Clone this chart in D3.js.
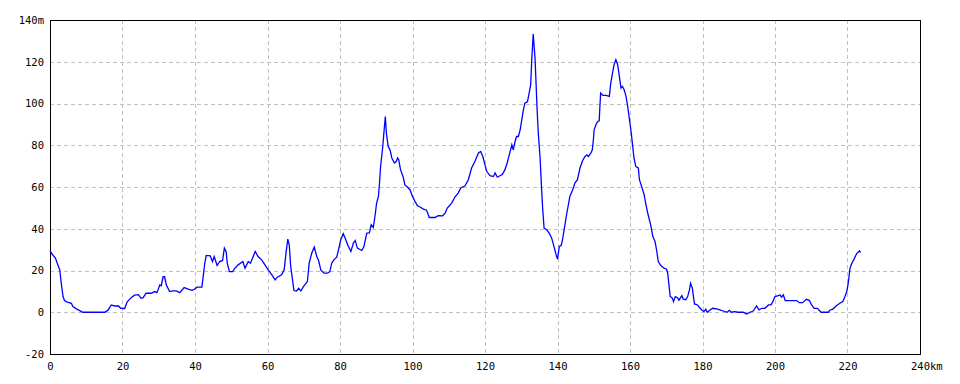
<!DOCTYPE html>
<html>
<head>
<meta charset="utf-8">
<script src="https://cdn.jsdelivr.net/npm/d3@7"></script>
<style>
  body { margin: 0; background: #fff; }
  svg { display: block; }
  .tick text { font-family: "DejaVu Sans Mono", monospace; font-size: 10.5px; fill: #000; }
</style>
</head>
<body>
<div id="chart"></div>
<script>
// distance along the route (km)
const km = [
  0, 0.5, 1.5, 2, 2.7, 3.1, 3.6, 4.0, 4.6, 5.9, 6.3, 7.3, 8.2, 9.1, 15.1, 16, 16.9, 17.8, 18.9, 19.5,
  20.6, 21.3, 22.4, 23.3, 24.4, 25.1, 25.7, 26.5, 27.9, 28.9, 29.5, 30.3, 30.7, 31.2, 31.6, 32.1, 33, 33.9, 34.8, 35.8,
  37, 38.1, 39.2, 39.8, 40.6, 41.9, 42.7, 43.1, 44.2, 44.8, 45.3, 46.1, 46.8, 47.6, 48.1, 48.6, 48.9, 49.5, 50.4, 51,
  51.9, 53.2, 53.8, 54.7, 55.3, 56.6, 57.4, 58.4, 59.3, 60.2, 61.2, 62.1, 62.7, 63.9, 64.6, 65.1, 65.6, 66, 66.4, 66.9,
  67.3, 68, 68.6, 69.2, 69.9, 71, 71.5, 72.2, 72.9, 73.6, 74.1, 74.7, 75.6, 76.5, 77.2, 77.7, 78.3, 79.1, 79.8, 80.2,
  80.9, 81.6, 82.1, 83, 83.7, 84.2, 84.8, 86, 86.6, 87.4, 88.1, 88.6, 89.2, 89.7, 90.1, 90.6, 90.9, 91.2, 91.5, 91.8,
  92.1, 92.5, 92.8, 93.3, 93.8, 94.3, 95, 95.5, 95.9, 96.2, 96.7, 97.5, 97.9, 98.6, 99.3, 100, 100.7, 101.4, 102.1, 103,
  103.8, 104.2, 104.6, 106.2, 107.1, 108.3, 109, 109.6, 110.8, 111.7, 112.6, 113.3, 114.5, 115.4, 116.3, 117.2, 118.2, 118.8, 119.4, 120,
  120.5, 121.4, 122.3, 122.8, 123.4, 124.1, 124.8, 125.5, 126.1, 126.7, 127.4, 127.8, 128.3, 128.7, 129.2, 129.7, 130.3, 130.6, 131, 131.7,
  132.1, 132.6, 132.9, 133.3, 133.8, 134.1, 134.4, 134.7, 135.2, 135.6, 135.9, 136.3, 137, 137.7, 138.4, 138.9, 139.5, 140, 140.5, 141,
  141.3, 141.9, 142.5, 143, 143.4, 144.2, 144.8, 145.5, 146.2, 146.9, 147.6, 148.1, 148.5, 149.2, 149.6, 149.9, 150.1, 150.6, 151.1, 151.5,
  151.7, 151.9, 152.5, 153.4, 154.3, 154.7, 155.1, 155.6, 156.1, 156.6, 157, 157.5, 157.9, 158.4, 158.9, 159.3, 159.8, 160.3, 160.7, 161.1,
  161.6, 162.3, 162.6, 163.2, 163.9, 164.4, 165, 165.7, 166.3, 166.9, 167.4, 167.8, 168.5, 169.4, 170.1, 170.4, 170.8, 171.1, 171.6, 172,
  172.5, 173.1, 173.5, 174.3, 174.7, 175.4, 175.9, 176.4, 176.7, 177.2, 177.5, 177.8, 178.6, 179.1, 179.8, 180.4, 180.9, 181.3, 182.1, 182.8,
  183.9, 184.8, 185.7, 186.8, 187.4, 188, 188.9, 189.8, 191.2, 192.2, 193.1, 194, 194.9, 195.6, 196.3, 197.2, 198.2, 198.9, 199.4, 200,
  200.9, 201.4, 201.8, 202.3, 202.8, 204.1, 206, 206.7, 207.6, 208.7, 209.5, 210.1, 210.8, 211.7, 212.7, 214.7, 215.2, 215.9, 217, 217.9,
  218.7, 219.3, 219.8, 220.2, 220.7, 221.1, 221.7, 222.5, 223.3, 223.6
];
// elevation (m)
const elev = [
  29.5, 28, 26, 23.5, 20.3, 14, 7.5, 5.6, 5, 4.3, 2.7, 1.6, 0.8, 0, 0, 1, 3.5, 3, 3, 1.9,
  1.8, 5, 7, 8.2, 8.4, 6.7, 7, 9.1, 9.1, 9.9, 9.4, 13.1, 12.7, 17, 17, 13, 9.9, 10.2, 10.2, 9.4,
  11.8, 11.1, 10.5, 11, 12, 12, 23.5, 27.2, 27, 24.3, 26.7, 22.4, 24.3, 24.8, 30.7, 29, 23.5, 19.5, 19.5, 21.1,
  22.7, 24.3, 21.1, 24.3, 23.5, 29.1, 26.7, 25.1, 22.7, 20.3, 17.9, 15.5, 16.8, 17.9, 20.3, 28.3, 35, 32.3, 21.9, 15.5,
  10.4, 10.2, 11.5, 10.2, 12.3, 14.7, 23.5, 28.3, 31.2, 26.7, 24.8, 20.3, 18.7, 18.7, 19.5, 23.5, 25.1, 26.4, 31.5, 34.7,
  37.6, 34.7, 32.3, 29.1, 33.1, 34.4, 30.7, 29.6, 31.5, 37.9, 38, 41.9, 40.6, 46.7, 52.3, 55.5, 61.9, 69.8, 74.6, 79.4,
  85.8, 93.8, 85.8, 79.4, 77.8, 73.9, 71.5, 72.2, 73.9, 73.1, 68.3, 64.3, 61, 60, 58.7, 55.5, 53, 51, 50.4, 49.4,
  49, 47.5, 45.4, 45.4, 46.3, 46.2, 47.5, 49.9, 52.3, 55.2, 57.1, 59.5, 60.6, 63.5, 69.1, 72.2, 76.3, 77, 74.6, 70.6,
  67.4, 65.4, 65, 66.7, 64.7, 65.4, 66, 68.3, 71.5, 75.4, 80.2, 77.8, 81.8, 84.2, 84.2, 87.4, 93.8, 97, 100.2, 100.8,
  104.2, 109, 121, 133.3, 121.8, 109, 96.2, 85.8, 73.9, 59.5, 49.9, 40.3, 39.5, 37.9, 35.5, 32.3, 28.3, 25.4, 31.5, 32,
  33.9, 40.3, 46.7, 51.5, 55.5, 58.7, 61.9, 63.5, 69.1, 72.6, 74.6, 75.4, 74.6, 76.2, 77.8, 82.6, 87.4, 89.8, 91.4, 91.7,
  98.6, 105, 103.9, 103.9, 103.4, 109.8, 113.8, 118.6, 121, 118.6, 113.8, 107.4, 108.2, 106.6, 103.4, 99.4, 93, 86.6, 80.2, 73.9,
  69.8, 69.1, 63.5, 60.3, 56.3, 51.5, 46.7, 41.9, 36.3, 33.9, 29.1, 24.3, 22.4, 21.1, 20.6, 18.7, 12.3, 7.5, 7, 5.1,
  7.5, 7, 5.8, 8, 6.3, 6, 7.5, 10.7, 13.9, 11.5, 7.5, 4, 3.5, 2.4, 1.1, 0.3, 1.4, 0, 1.1, 1.9,
  1.6, 1.1, 0.6, 0, 0.9, 0, 0.3, 0, 0, -0.8, 0, 0.6, 3, 1.1, 1.9, 1.9, 3.5, 3.5, 5.1, 7.5,
  8, 8.3, 7.2, 8.3, 5.6, 5.6, 5.6, 4.6, 4.6, 6.2, 5.6, 3.5, 1.9, 1.9, 0, 0, 1.1, 1.4, 3.2, 4.3,
  5.1, 7.5, 9.9, 13.9, 21.1, 23.1, 25.1, 28, 29.4, 28.5
];
const xTicks = [0, 20, 40, 60, 80, 100, 120, 140, 160, 180, 200, 220, 240];
const yTicks = [-20, 0, 20, 40, 60, 80, 100, 120, 140];

const width = 960, height = 384;
const margin = { left: 50, top: 20, right: 40, bottom: 30 };

const svg = d3.select("#chart").append("svg")
  .attr("width", width)
  .attr("height", height);

const x = d3.scaleLinear().domain([0, 240]).range([margin.left, width - margin.right]);
const y = d3.scaleLinear().domain([-20, 140]).range([height - margin.bottom, margin.top]);

// grid
svg.append("g")
  .selectAll("line")
  .data(xTicks.slice(1, -1))
  .join("line")
  .attr("x1", d => Math.round(x(d)) + 0.5)
  .attr("x2", d => Math.round(x(d)) + 0.5)
  .attr("y1", y(140))
  .attr("y2", y(-20))
  .attr("stroke", "#c0c0c0")
  .attr("stroke-dasharray", "4,3");

svg.append("g")
  .selectAll("line")
  .data(yTicks.slice(1, -1))
  .join("line")
  .attr("x1", x(0))
  .attr("x2", x(240))
  .attr("y1", d => Math.round(y(d)) + 0.5)
  .attr("y2", d => Math.round(y(d)) + 0.5)
  .attr("stroke", "#c0c0c0")
  .attr("stroke-dasharray", "4,3");

// axes (labels only)
const xAxis = d3.axisBottom(x)
  .tickValues(xTicks)
  .tickSize(0)
  .tickPadding(9)
  .tickFormat(d => d === 240 ? "240km" : d);

const yAxis = d3.axisLeft(y)
  .tickValues(yTicks)
  .tickSize(0)
  .tickPadding(6)
  .tickFormat(d => d === 140 ? "140m" : d);

const gx = svg.append("g")
  .attr("transform", "translate(0," + y(-20) + ")")
  .call(xAxis);
gx.select(".domain").remove();
gx.selectAll(".tick").filter(d => d === 240).select("text")
  .attr("text-anchor", "start")
  .attr("dx", -9.5);

const gy = svg.append("g")
  .attr("transform", "translate(" + x(0) + ",0)")
  .call(yAxis);
gy.select(".domain").remove();

// frame
svg.append("rect")
  .attr("x", x(0) + 0.5)
  .attr("y", y(140) + 0.5)
  .attr("width", x(240) - x(0))
  .attr("height", y(-20) - y(140))
  .attr("fill", "none")
  .attr("stroke", "#000");

// profile
const line = d3.line()
  .x((d, i) => x(km[i]))
  .y(d => y(d));

svg.append("path")
  .datum(elev)
  .attr("d", line)
  .attr("fill", "none")
  .attr("stroke", "#0000ff")
  .attr("stroke-width", 1.3);
</script>
</body>
</html>
